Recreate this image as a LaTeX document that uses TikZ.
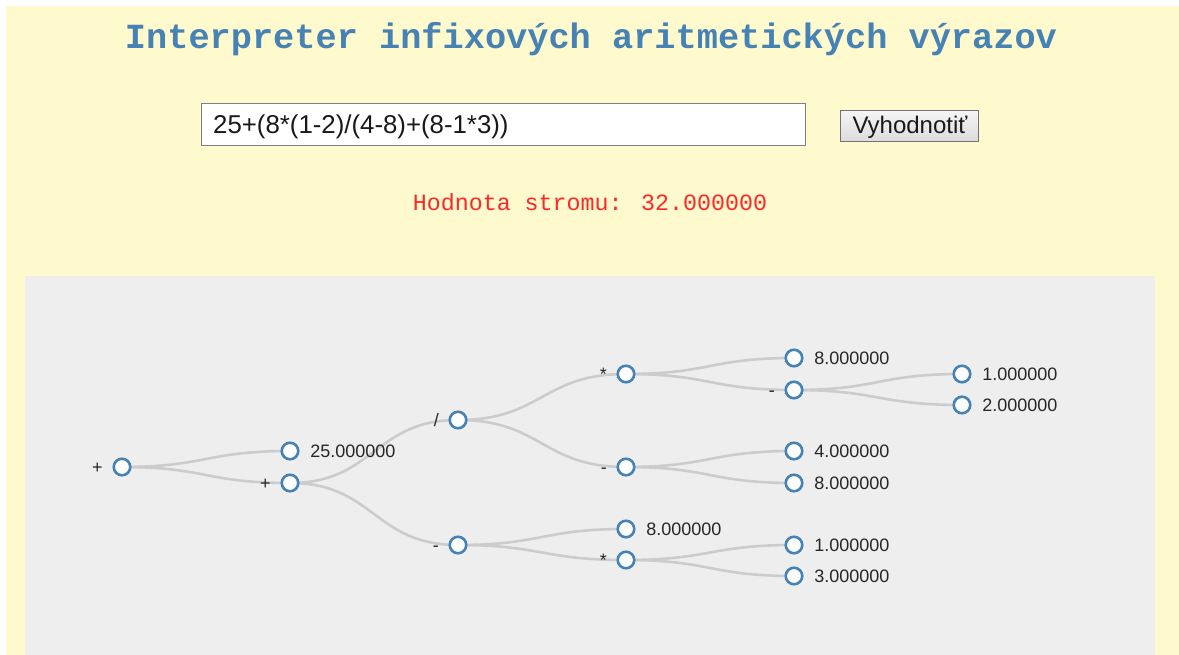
\documentclass[tikz,border=0pt]{standalone}
\usepackage{fontspec}
\setmainfont{Liberation Sans}
\newfontfamily\cour{Liberation Mono}
\usetikzlibrary{backgrounds}
\definecolor{pageyellow}{RGB}{255,249,206}
\definecolor{panelgrey}{RGB}{238,238,238}
\definecolor{nodeblue}{RGB}{70,130,180}
\definecolor{linkgrey}{RGB}{204,204,204}
\definecolor{titleblue}{RGB}{70,130,180}
\definecolor{valred}{RGB}{255,40,40}
\begin{document}
\begin{tikzpicture}[x=1pt,y=-1pt,
  tnode/.style={circle, draw=nodeblue, fill=white, line width=2.6pt, minimum size=16.5pt, inner sep=0pt},
  lbl/.style={font=\fontsize{18}{20}\selectfont, inner sep=0pt, text height=12.6pt, text depth=0pt, text=black!85},
  leaf/.style={tnode, label={[lbl,label distance=10.5pt]east:#1}},
  op/.style={tnode, label={[lbl,label distance=9.5pt]west:#1}},
  link/.style={draw=linkgrey, line width=2.6pt},
  inputbox/.style={draw=black!50, fill=white, line width=1pt},
  btn/.style={draw=black!55, top color=black!4, bottom color=black!14, line width=1pt}
]
\useasboundingbox (0,0) rectangle (1179,655);
\begin{scope}[on background layer]
  \fill[white] (0,0) rectangle (1179,655);
  \fill[pageyellow] (6,6) rectangle (1179,655);
  \fill[panelgrey] (25,276) rectangle (1155,655);
\end{scope}

% header
\node[anchor=base, inner sep=0pt, text=titleblue, font=\cour\bfseries\fontsize{35.3}{40}\selectfont] (title) at (591,49) {Interpreter infixových aritmetických výrazov};
\draw[inputbox] (201,104) rectangle (805,146);
\node[anchor=base west, inner sep=0pt, font=\fontsize{25.8}{28}\selectfont, text=black!90] (expr) at (213,134) {25+(8*(1-2)/(4-8)+(8-1*3))};
\draw[btn] (840,111) rectangle (978,142);
\node[anchor=base, inner sep=0pt, font=\fontsize{24}{26}\selectfont, text=black!90] (vyh) at (910,134) {Vyhodnotiť};
\node[anchor=base, inner sep=0pt, text=valred, font=\cour\fontsize{23.3}{26}\selectfont] (val) at (590,211) {Hodnota stromu: 32.000000};

% tree nodes
\node[op=+] (r) at (122,467) {};
\node[leaf=25.000000] (a1) at (290,451) {};
\node[op=+] (a2) at (290,483) {};
\node[op=/] (b1) at (458,420) {};
\node[op=-] (b2) at (458,545) {};
\node[op=*] (c1) at (626,374) {};
\node[op=-] (c2) at (626,467) {};
\node[leaf=8.000000] (c3) at (626,529) {};
\node[op=*] (c4) at (626,560) {};
\node[leaf=8.000000] (d1) at (794,358) {};
\node[op=-] (d2) at (794,390) {};
\node[leaf=4.000000] (d3) at (794,451) {};
\node[leaf=8.000000] (d4) at (794,483) {};
\node[leaf=1.000000] (d5) at (794,545) {};
\node[leaf=3.000000] (d6) at (794,576) {};
\node[leaf=1.000000] (e1) at (962,374) {};
\node[leaf=2.000000] (e2) at (962,405) {};

\begin{scope}[on background layer]
  \foreach \s/\t in {r/a1, r/a2, a2/b1, a2/b2, b1/c1, b1/c2, b2/c3, b2/c4,
                     c1/d1, c1/d2, c2/d3, c2/d4, c4/d5, c4/d6, d2/e1, d2/e2}
    \draw[link] (\s.center) .. controls +(84,0) and +(-84,0) .. (\t.center);
\end{scope}
\end{tikzpicture}
\end{document}
